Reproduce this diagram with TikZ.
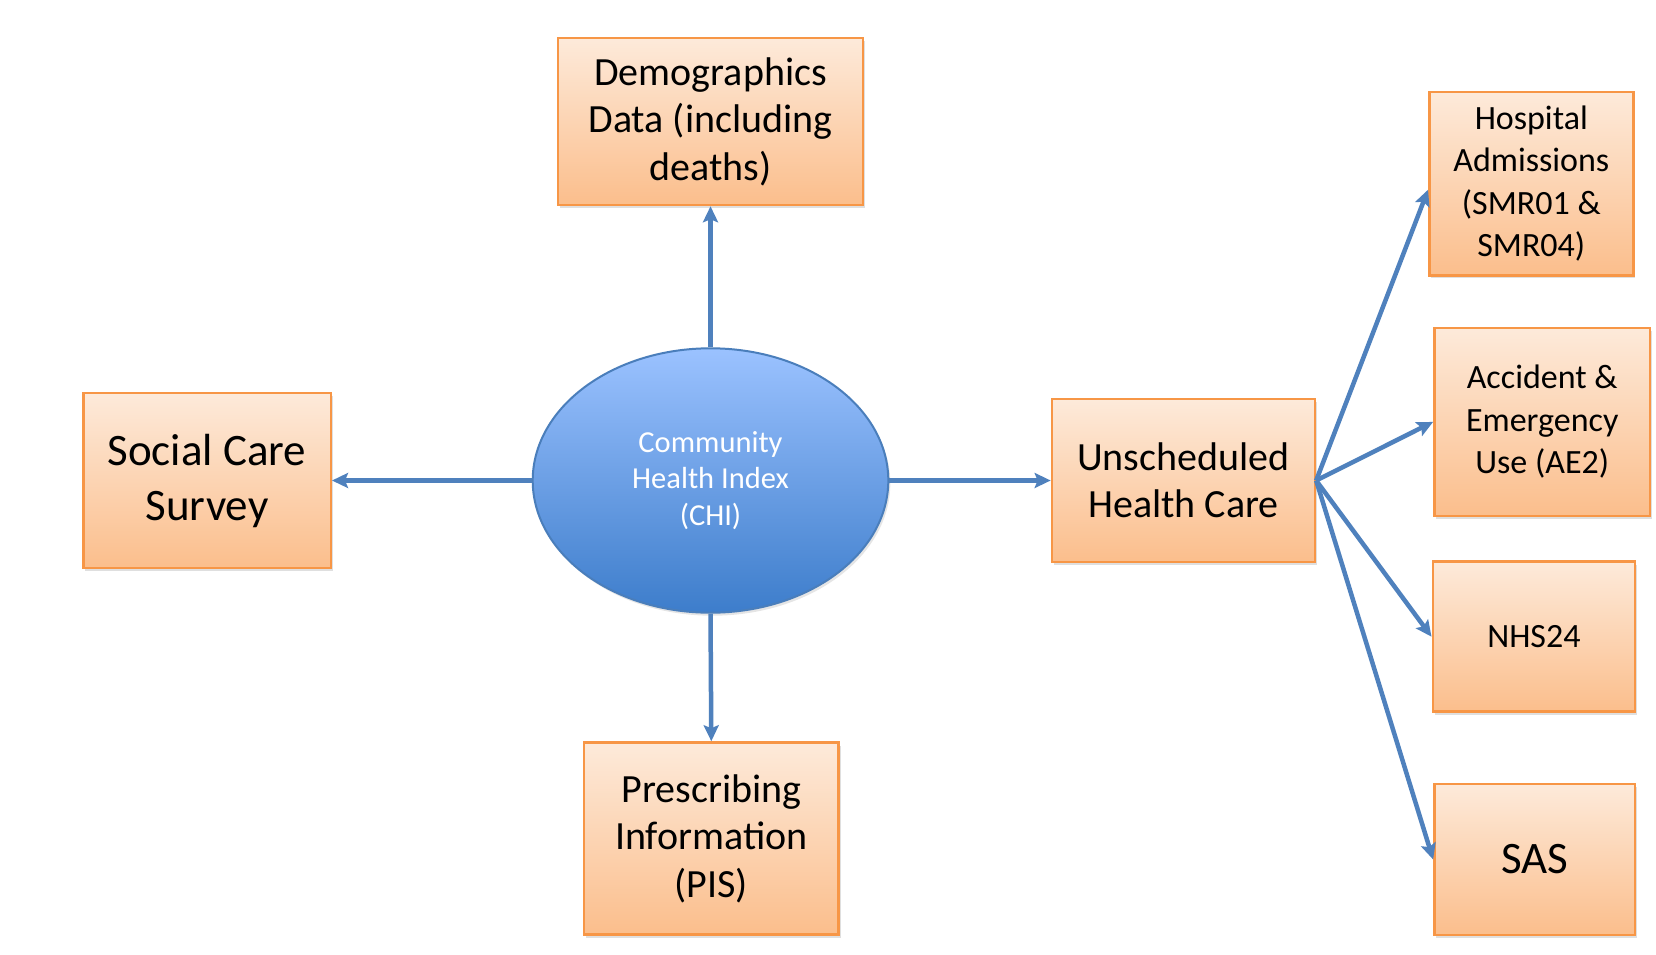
\documentclass[tikz,border=0pt]{standalone}
\usepackage{fontspec}
\setmainfont{Carlito}
\usetikzlibrary{shapes.geometric,arrows.meta,shadows}
\definecolor{obord}{RGB}{247,150,70}
\definecolor{otop}{RGB}{253,234,218}
\definecolor{obot}{RGB}{251,190,140}
\definecolor{btop}{RGB}{155,194,255}
\definecolor{bbot}{RGB}{61,125,203}
\definecolor{bbord}{RGB}{74,126,187}
\definecolor{arr}{RGB}{79,129,189}
\tikzset{
  obox/.style={rectangle, draw=obord, line width=2.5pt, top color=otop, bottom color=obot,
    align=center, inner sep=0pt, text=black,
    drop shadow={opacity=0.25, shadow xshift=2pt, shadow yshift=-3pt}},
  fbig/.style={font=\fontsize{45}{55}\selectfont},
  fmid/.style={font=\fontsize{40}{47.5}\selectfont},
  fsmall/.style={font=\fontsize{34}{42.5}\selectfont},
  conn/.style={draw=arr, line width=4.5pt, -{Stealth[length=16pt,width=15pt,inset=3pt]}}
}
\begin{document}
\begin{tikzpicture}[x=1pt,y=-1pt]
\useasboundingbox[fill=white] (0,0) rectangle (1656,955);
\node[ellipse, draw=bbord, line width=2pt, top color=btop, bottom color=bbot,
  minimum width=355.6pt, minimum height=264.4pt, inner sep=0pt, align=center, text=white,
  font=\fontsize{30.5}{36.8}\selectfont,
  drop shadow={opacity=0.2, shadow xshift=2pt, shadow yshift=-3pt}]
  (chi) at (710.5,480.5) {Community\\Health Index\\(CHI)};
\node[obox, fmid, minimum width=305pt, minimum height=167pt] (demo) at (710.5,121.5) {Demographics\\Data (including\\deaths)};
\node[obox, fbig, minimum width=247.5pt, minimum height=175pt] (social) at (207,480.5) {Social Care\\Survey};
\node[obox, fmid, minimum width=263pt, minimum height=162.6pt] (unsched) at (1183.4,480.5) {Unscheduled\\Health Care};
\node[obox, fmid, minimum width=254.5pt, minimum height=192pt] (presc) at (711.3,838.5) {Prescribing\\Information\\(PIS)};
\node[obox, fsmall, minimum width=204pt, minimum height=183.3pt] (hosp) at (1531.3,183.7) {Hospital\\Admissions\\(SMR01 \&\\SMR04)};
\node[obox, fsmall, minimum width=215.7pt, minimum height=188.3pt] (ae) at (1542.2,421.9) {Accident \&\\Emergency\\Use (AE2)};
\node[obox, fsmall, minimum width=202.3pt, minimum height=150pt] (nhs) at (1533.9,636.7) {NHS24};
\node[obox, fbig, minimum width=200.7pt, minimum height=151pt] (sas) at (1534.7,859.5) {SAS};
\draw[conn] (chi.north) -- (demo.south);
\draw[conn] (chi.west) -- (social.east);
\draw[conn] (chi.east) -- (unsched.west);
\draw[conn] (chi.south) -- (presc.north);
\draw[conn] (unsched.east) -- ([yshift=-6pt]hosp.west);
\draw[conn] (unsched.east) -- (ae.west);
\draw[conn] (unsched.east) -- (nhs.west);
\draw[conn] (unsched.east) -- (sas.west);
\end{tikzpicture}
\end{document}
